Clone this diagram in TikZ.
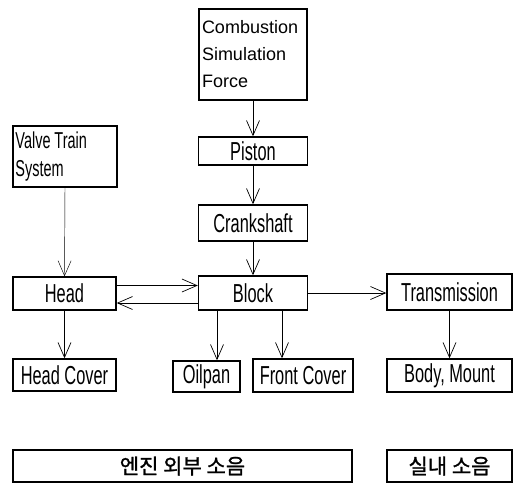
\documentclass[tikz,border=0pt]{standalone}
\usepackage{fontspec}
\usetikzlibrary{arrows.meta}
\newfontfamily\narrowfont[FakeStretch=0.63]{Liberation Sans}
\newfontfamily\plainfont{Liberation Sans}
\newfontfamily\krfont[FakeBold=1.2]{Noto Sans CJK KR}

\begin{document}
\begin{tikzpicture}[x=1pt, y=-1pt]
    % Styles
    \tikzstyle{partbox} = [rectangle, draw, line width=1.4pt, inner sep=0pt,
        font=\narrowfont\fontsize{26}{28}\selectfont]
    \tikzstyle{noisebox} = [rectangle, draw, line width=1.4pt, inner sep=0pt,
        font=\krfont\fontsize{21}{23}\selectfont]
    \tikzstyle{arrow} = [line width=0.7pt, -{Straight Barb[length=15pt,width=13pt]}]
    \tikzstyle{thinarrow} = [line width=0.45pt, -{Straight Barb[length=15pt,width=13pt]}]

    \useasboundingbox (0,0) rectangle (524,483);

    % === TOP: Excitation ===
    \node [partbox, minimum width=108pt, minimum height=91pt, text width=102pt,
        align=left, font=\plainfont\fontsize{18}{27}\selectfont] (combustion) at (253,54.5)
        {Combustion\\Simulation\\Force};
    \node [partbox, minimum width=104pt, minimum height=61pt, text width=99pt,
        align=left, font=\narrowfont\fontsize{23}{28}\selectfont] (valvetrain) at (65,156.5)
        {Valve\,Train\\System};

    % === MIDDLE: Engine Parts ===
    \node [partbox, minimum width=109pt, minimum height=28pt] (piston) at (253,151) {Piston};
    \node [partbox, minimum width=109pt, minimum height=36pt] (crankshaft) at (253,223) {Crankshaft};
    \node [partbox, minimum width=109pt, minimum height=34pt] (block) at (253,293) {Block};
    \node [partbox, minimum width=103pt, minimum height=33pt] (head) at (64.5,293.5) {Head};
    \node [partbox, minimum width=125pt, minimum height=36pt] (transmission) at (449.5,292) {Transmission};

    % === BOTTOM: Radiating Parts ===
    \node [partbox, minimum width=103pt, minimum height=32pt] (headcover) at (64.5,375) {Head Cover};
    \node [partbox, minimum width=67pt, minimum height=31pt] (oilpan) at (206.5,376.5) {Oilpan};
    \node [partbox, minimum width=100pt, minimum height=33pt] (frontcover) at (303,375.5) {Front Cover};
    \node [partbox, minimum width=125pt, minimum height=33pt] (bodymount) at (449.5,375.5) {Body, Mount};

    % === Noise Groups ===
    \node [noisebox, minimum width=339pt, minimum height=32pt] (outernoise) at (182.5,466) {엔진 외부 소음};
    \node [noisebox, minimum width=125pt, minimum height=32pt] (cabinnoise) at (449.5,466) {실내 소음};

    % === ARROWS: Main Flow ===
    \draw [arrow] (combustion.south) -- (piston.north);
    \draw [arrow] (piston.south) -- (crankshaft.north);
    \draw [arrow] (crankshaft.south) -- (block.north);
    \draw [thinarrow] (valvetrain.south) -- (head.north);
    \draw [arrow] ([yshift=8pt]head.east) -- ([yshift=8pt]head.east -| block.west);
    \draw [arrow] ([yshift=-10pt]block.west) -- ([yshift=-10pt]block.west -| head.east);
    \draw [arrow] (block.east) -- (block.east -| transmission.west);

    % === ARROWS: To Covers ===
    \draw [arrow] (head.south) -- (headcover.north);
    \draw [arrow] ([xshift=-36pt]block.south) coordinate (b1) -- (b1 |- oilpan.north);
    \draw [arrow] ([xshift=29pt]block.south) coordinate (b2) -- (b2 |- frontcover.north);
    \draw [arrow] (transmission.south) -- (bodymount.north);
\end{tikzpicture}
\end{document}
